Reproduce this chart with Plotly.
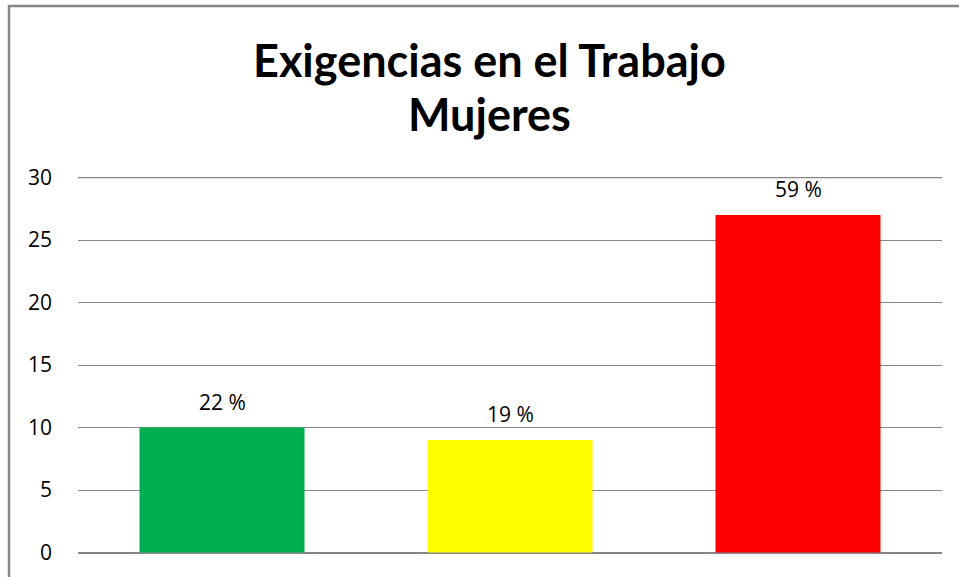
import plotly.graph_objects as go

categories = ["Bajo", "Medio", "Alto"]
values = [10, 9, 27]
labels = ["22 %", "19 %", "59 %"]
colors = ["#00B050", "#FFFF00", "#FF0000"]
y_ticks = [0, 5, 10, 15, 20, 25, 30]
title_lines = ["Exigencias en el Trabajo", "Mujeres"]

L, R, T, B = 78, 17, 177, 24
W, H = 959, 577
pw, ph = W - L - R, H - T - B


def px_x(p):
    return (p - L) / pw


def px_y(p):
    return (H - B - p) / ph


fig = go.Figure(go.Bar(
    x=categories, y=values, marker=dict(color=colors, line=dict(width=0)),
    width=0.573, hoverinfo="skip"))

for c, v, t in zip(categories, values, labels):
    fig.add_annotation(x=c, y=v, text=t, showarrow=False, yanchor="bottom",
                       yshift=10, font=dict(family="Open Sans", size=21, color="#000"))

for line, yc in zip(title_lines, [60, 114]):
    fig.add_annotation(xref="paper", yref="paper", x=px_x(489), y=px_y(yc),
                       text="<b>" + line + "</b>", showarrow=False,
                       xanchor="center", yanchor="middle",
                       font=dict(family="Lato", size=45, color="#000"))

gray = "#868686"
# top gridline (at the range edge)
fig.add_shape(type="line", xref="paper", yref="y", x0=0, x1=1,
              y0=max(y_ticks), y1=max(y_ticks), line=dict(color=gray, width=1.6), layer="below")
# chart-area border
fig.add_shape(type="line", xref="paper", yref="paper", x0=px_x(9), x1=px_x(9),
              y0=px_y(5), y1=px_y(580), line=dict(color=gray, width=2.5))
fig.add_shape(type="line", xref="paper", yref="paper", x0=px_x(8), x1=px_x(962),
              y0=px_y(6), y1=px_y(6), line=dict(color=gray, width=2.5))

fig.update_layout(
    width=W, height=H, margin=dict(l=L, r=R, t=T, b=B),
    paper_bgcolor="white", plot_bgcolor="white", showlegend=False,
    xaxis=dict(showticklabels=False, showgrid=False, zeroline=False, showline=False,
               ticks=""),
    yaxis=dict(range=[-0.04, 30.04], tickvals=y_ticks, showgrid=True, gridcolor=gray,
               gridwidth=1.3, zeroline=True, zerolinecolor=gray, zerolinewidth=1.6,
               showline=False, ticks="", ticklabelstandoff=25,
               tickfont=dict(family="Open Sans", size=21, color="#000")),
)

fig.write_html("out.html", config={"displayModeBar": False},
               post_script="document.body.style.margin='0';document.body.style.overflow='hidden';")
